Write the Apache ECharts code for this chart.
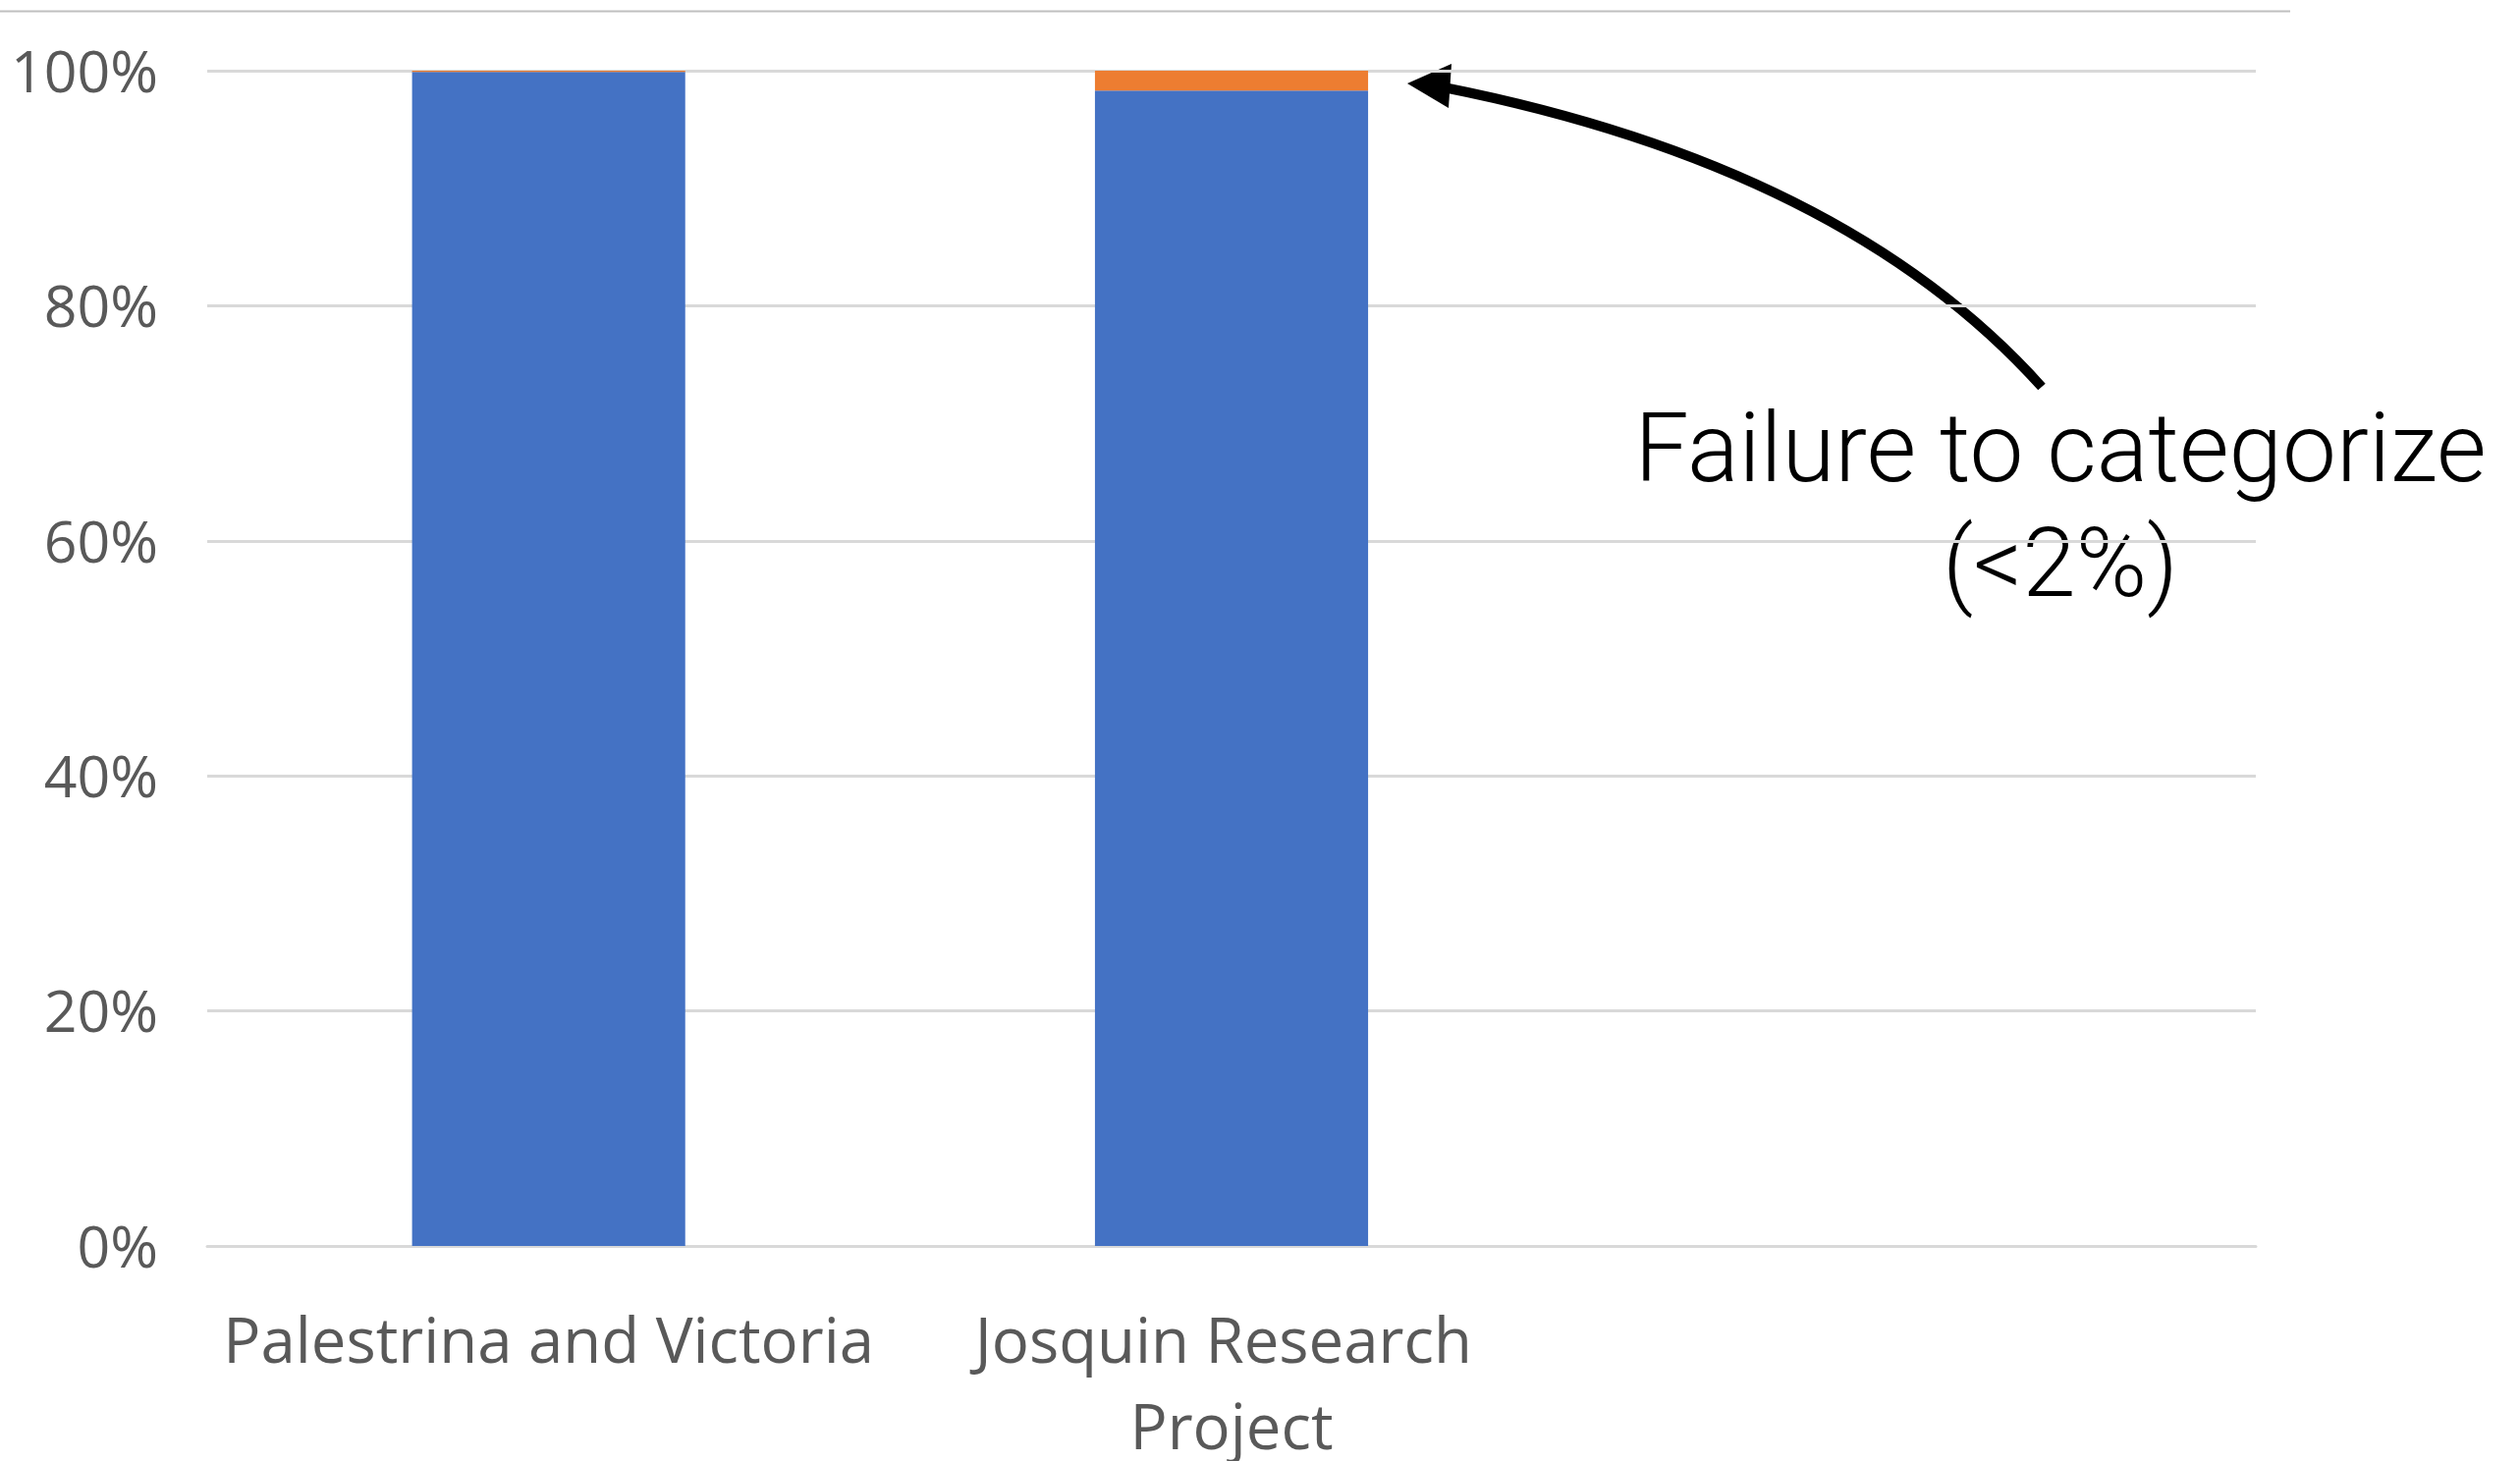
<!DOCTYPE html>
<html>
<head>
<meta charset="utf-8">
<script src="https://cdn.jsdelivr.net/npm/echarts@6/dist/echarts.min.js"></script>
<style>
html,body{margin:0;padding:0;background:#fff;}
#chart{width:2566px;height:1488px;}
</style>
</head>
<body>
<div id="chart"></div>
<script>
const categories = ['Palestrina and Victoria', 'Josquin Research Project', ''];
const categorizedValues = [99.9, 98.3, null];
const failureValues = [0.1, 1.7, null];
const yTickLabels = ['0%', '20%', '40%', '60%', '80%', '100%'];
const annotationText = 'Failure to categorize\n(<2%)';

const chart = echarts.init(document.getElementById('chart'), null, {renderer: 'canvas'});
chart.setOption({
  animation: false,
  backgroundColor: '#ffffff',
  grid: {left: 211, right: 269, top: 72, bottom: 219, containLabel: false, outerBoundsMode: 'none'},
  xAxis: {
    type: 'category',
    data: categories,
    axisLine: {show: true, lineStyle: {color: '#d9d9d9', width: 3}},
    axisTick: {show: false},
    axisLabel: {
      color: '#595959', fontFamily: 'Open Sans', fontSize: 63.5, lineHeight: 88,
      margin: 57, width: 690, overflow: 'break', interval: 0
    }
  },
  yAxis: {
    type: 'value', min: 0, max: 100, interval: 20,
    axisLine: {show: false}, axisTick: {show: false},
    splitLine: {lineStyle: {color: '#d9d9d9', width: 3}},
    axisLabel: {
      color: '#595959', fontFamily: 'Open Sans', fontSize: 59, margin: 50,
      formatter: v => '{t|' + yTickLabels[Math.round(v / 20)] + '}',
      rich: {t: {color: '#595959', fontFamily: 'Open Sans', fontSize: 59, padding: [10, 0, 0, 0]}}
    }
  },
  series: [
    {name: 'Categorized', type: 'bar', stack: 'total', data: categorizedValues,
     barCategoryGap: '60%', itemStyle: {color: '#4472C4'}},
    {name: 'Failure to categorize', type: 'bar', stack: 'total', data: failureValues,
     barCategoryGap: '60%', itemStyle: {color: '#ED7D31'}}
  ],
  graphic: [
    {type: 'line', shape: {x1: 0, y1: 11.5, x2: 2332, y2: 11.5},
     style: {stroke: '#bfbfbf', lineWidth: 2}},
    {type: 'bezierCurve',
     shape: {x1: 2079, y1: 394, x2: 1470, y2: 89, cpx1: 1878, cpy1: 170},
     style: {stroke: '#000', lineWidth: 10, fill: null}},
    {type: 'polygon',
     shape: {points: [[1433, 85], [1478, 65], [1475, 110]]},
     style: {fill: '#000'}},
    {type: 'text', x: 2098, y: 407,
     style: {text: annotationText, fill: '#000', fontFamily: 'Roboto',
             fontWeight: 300, fontSize: 98,
             align: 'center', verticalAlign: 'top', lineHeight: 117}}
  ]
});
</script>
</body>
</html>
